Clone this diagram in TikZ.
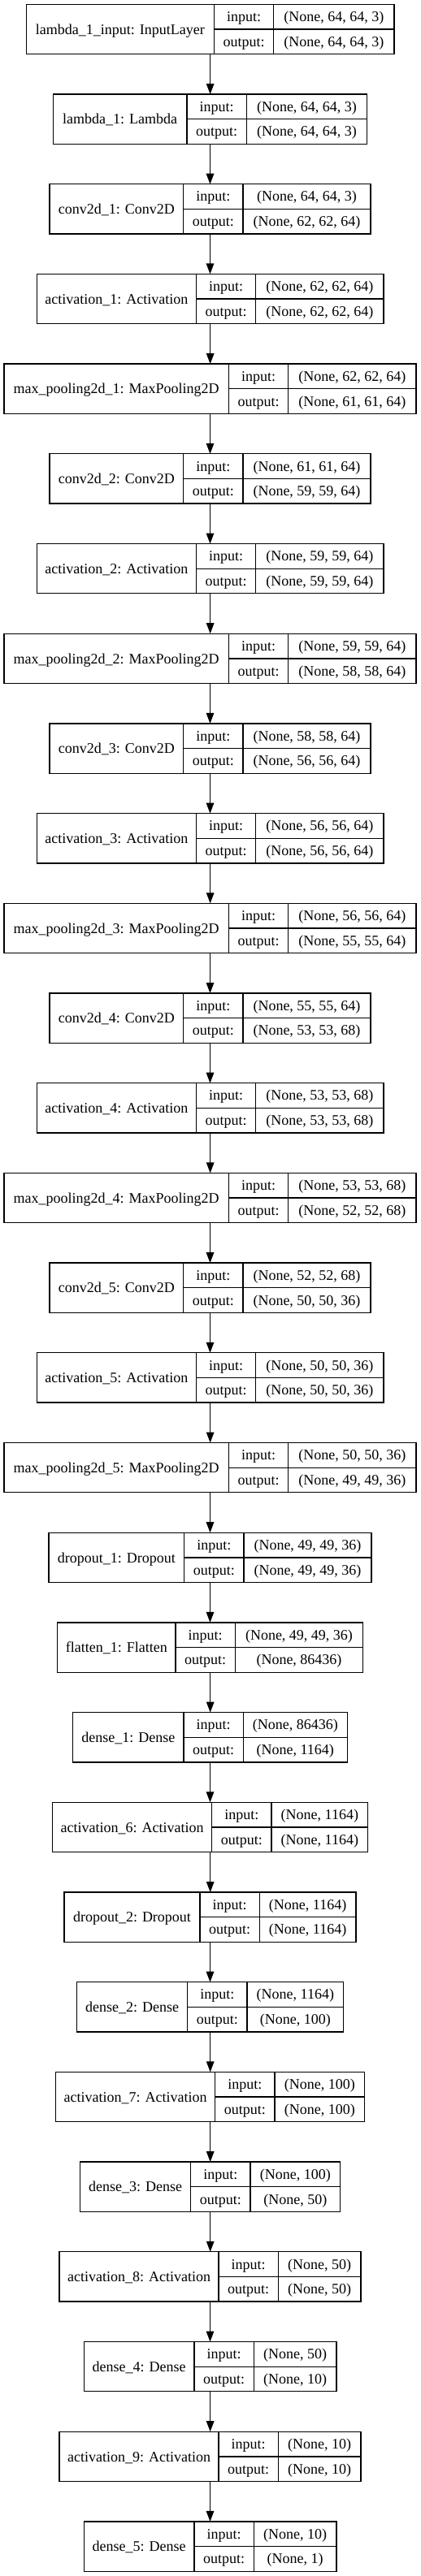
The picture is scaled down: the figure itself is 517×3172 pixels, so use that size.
\documentclass[tikz,border=0pt]{standalone}
\usepackage{fontspec}
\setmainfont{Liberation Serif}
\usetikzlibrary{arrows.meta}
\tikzset{
  layerbox/.style={draw=black, line width=1.3pt, inner sep=0pt, outer sep=0pt, minimum height=61.3pt},
  cellrule/.style={draw=black, line width=1.3pt},
  txt/.style={font=\fontsize{18}{20}\selectfont, inner sep=0pt, anchor=base},
  flow/.style={draw=black, line width=1.3pt, -{Triangle[length=13pt,width=9.5pt]}},
}
% #1 name, #2 top y, #3 left, #4 divider 1, #5 divider 2, #6 right, #7 label, #8 input shape, #9 output shape
\newcommand{\kerlayer}[9]{%
  \node[layerbox, minimum width={#6pt-#3pt}] (#1) at ({(#3+#6)/2},{#2+30.65}) {};
  \draw[cellrule] (#4,#2) -- (#4,{#2+61.3});
  \draw[cellrule] (#5,#2) -- (#5,{#2+61.3});
  \draw[cellrule] (#4,{#2+30.65}) -- (#6,{#2+30.65});
  \node[txt] (#1-lab) at ({(#3+#4)/2},{#2+36.8}) {#7};
  \node[txt] (#1-in) at ({(#4+#5)/2},{#2+21.2}) {input:};
  \node[txt] (#1-out) at ({(#4+#5)/2},{#2+51.9}) {output:};
  \node[txt] (#1-iv) at ({(#5+#6)/2},{#2+21.2}) {#8};
  \node[txt] (#1-ov) at ({(#5+#6)/2},{#2+51.9}) {#9};
}
\begin{document}
\begin{tikzpicture}[x=1pt, y=-1pt]
\useasboundingbox (0,0) rectangle (517,3172);
\kerlayer{b0}{5.3}{32.3}{263.3}{336.7}{485}{lambda\_1\_input: InputLayer}{(None, 64, 64, 3)}{(None, 64, 64, 3)}
\kerlayer{b1}{116.0}{65.3}{230}{303.3}{451.7}{lambda\_1: Lambda}{(None, 64, 64, 3)}{(None, 64, 64, 3)}
\kerlayer{b2}{226.7}{61}{225.7}{299}{456}{conv2d\_1: Conv2D}{(None, 64, 64, 3)}{(None, 62, 62, 64)}
\kerlayer{b3}{337.4}{45.3}{241.3}{314.7}{472}{activation\_1: Activation}{(None, 62, 62, 64)}{(None, 62, 62, 64)}
\kerlayer{b4}{448.1}{5}{281.3}{354.7}{512}{max\_pooling2d\_1: MaxPooling2D}{(None, 62, 62, 64)}{(None, 61, 61, 64)}
\kerlayer{b5}{558.8}{61}{225.7}{299}{456}{conv2d\_2: Conv2D}{(None, 61, 61, 64)}{(None, 59, 59, 64)}
\kerlayer{b6}{669.5}{45.3}{241.3}{314.7}{472}{activation\_2: Activation}{(None, 59, 59, 64)}{(None, 59, 59, 64)}
\kerlayer{b7}{780.2}{5}{281.3}{354.7}{512}{max\_pooling2d\_2: MaxPooling2D}{(None, 59, 59, 64)}{(None, 58, 58, 64)}
\kerlayer{b8}{890.9}{61}{225.7}{299}{456}{conv2d\_3: Conv2D}{(None, 58, 58, 64)}{(None, 56, 56, 64)}
\kerlayer{b9}{1001.6}{45.3}{241.3}{314.7}{472}{activation\_3: Activation}{(None, 56, 56, 64)}{(None, 56, 56, 64)}
\kerlayer{b10}{1112.3}{5}{281.3}{354.7}{512}{max\_pooling2d\_3: MaxPooling2D}{(None, 56, 56, 64)}{(None, 55, 55, 64)}
\kerlayer{b11}{1223.0}{61}{225.7}{299}{456}{conv2d\_4: Conv2D}{(None, 55, 55, 64)}{(None, 53, 53, 68)}
\kerlayer{b12}{1333.7}{45.3}{241.3}{314.7}{472}{activation\_4: Activation}{(None, 53, 53, 68)}{(None, 53, 53, 68)}
\kerlayer{b13}{1444.4}{5}{281.3}{354.7}{512}{max\_pooling2d\_4: MaxPooling2D}{(None, 53, 53, 68)}{(None, 52, 52, 68)}
\kerlayer{b14}{1555.1}{61}{225.7}{299}{456}{conv2d\_5: Conv2D}{(None, 52, 52, 68)}{(None, 50, 50, 36)}
\kerlayer{b15}{1665.8}{45.3}{241.3}{314.7}{472}{activation\_5: Activation}{(None, 50, 50, 36)}{(None, 50, 50, 36)}
\kerlayer{b16}{1776.5}{5}{281.3}{354.7}{512}{max\_pooling2d\_5: MaxPooling2D}{(None, 50, 50, 36)}{(None, 49, 49, 36)}
\kerlayer{b17}{1887.2}{60}{226.7}{300}{457}{dropout\_1: Dropout}{(None, 49, 49, 36)}{(None, 49, 49, 36)}
\kerlayer{b18}{1997.9}{70.7}{216}{289.3}{446.7}{flatten\_1: Flatten}{(None, 49, 49, 36)}{(None, 86436)}
\kerlayer{b19}{2108.6}{89.7}{226}{299.3}{427.3}{dense\_1: Dense}{(None, 86436)}{(None, 1164)}
\kerlayer{b20}{2219.3}{64.7}{260.7}{334}{452.7}{activation\_6: Activation}{(None, 1164)}{(None, 1164)}
\kerlayer{b21}{2330.0}{79}{246}{319.3}{438}{dropout\_2: Dropout}{(None, 1164)}{(None, 1164)}
\kerlayer{b22}{2440.7}{94.7}{230.7}{304}{422.7}{dense\_2: Dense}{(None, 1164)}{(None, 100)}
\kerlayer{b23}{2551.4}{68.7}{264.7}{338}{448.7}{activation\_7: Activation}{(None, 100)}{(None, 100)}
\kerlayer{b24}{2662.1}{98.7}{234.7}{308}{418.7}{dense\_3: Dense}{(None, 100)}{(None, 50)}
\kerlayer{b25}{2772.8}{73}{269}{342.3}{444}{activation\_8: Activation}{(None, 50)}{(None, 50)}
\kerlayer{b26}{2883.5}{103.3}{239}{312.3}{414}{dense\_4: Dense}{(None, 50)}{(None, 10)}
\kerlayer{b27}{2994.2}{73}{269}{342.3}{444}{activation\_9: Activation}{(None, 10)}{(None, 10)}
\kerlayer{b28}{3104.9}{103.3}{239}{312.3}{414}{dense\_5: Dense}{(None, 10)}{(None, 1)}
\foreach \i in {0,...,27} {
  \pgfmathtruncatemacro{\nxt}{\i+1}
  \draw[flow] (b\i.south) -- (b\i.south |- b\nxt.north);
}
\end{tikzpicture}
\end{document}
